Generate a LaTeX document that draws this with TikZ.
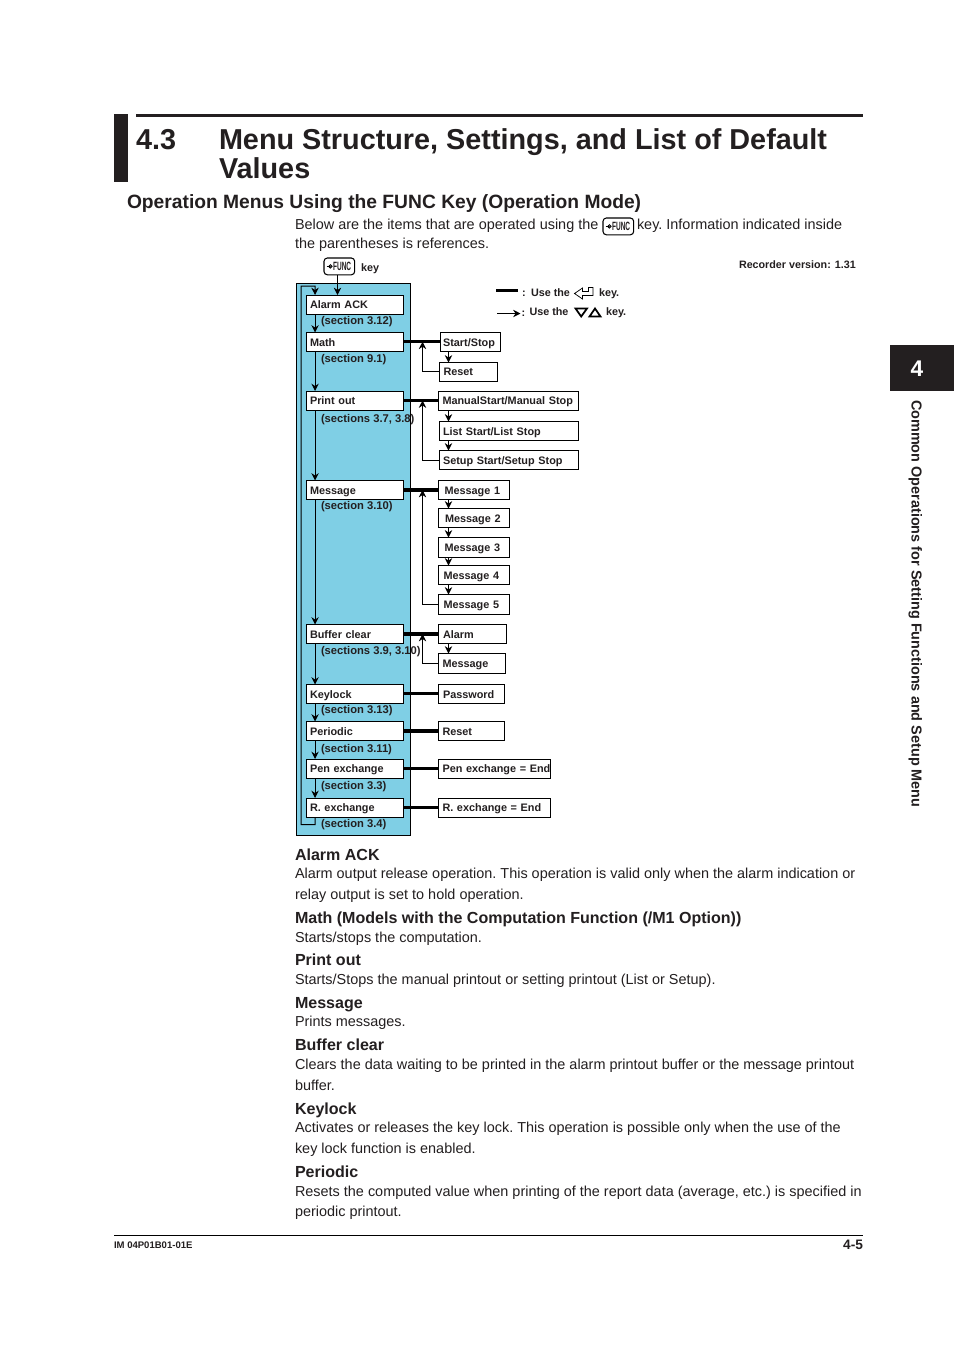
\documentclass[tikz,border=0pt]{standalone}
\usepackage{fontspec}
\setmainfont{Liberation Sans}
\usetikzlibrary{arrows.meta}
\definecolor{panel}{HTML}{7FCFE5}
\definecolor{ink}{HTML}{231F20}
\tikzset{
  txt/.style={anchor=base west,inner sep=0pt,outer sep=0pt,text=ink},
  title/.style={txt,font=\fontsize{21.6}{24}\selectfont\bfseries\frenchspacing},
  sect/.style={txt,font=\fontsize{14.43}{16}\selectfont\bfseries},
  head/.style={txt,font=\fontsize{12.03}{14}\selectfont\bfseries},
  body/.style={txt,font=\fontsize{10.83}{13}\selectfont\frenchspacing},
  small/.style={txt,font=\fontsize{8.1}{9}\selectfont\bfseries},
  refs/.style={txt,font=\fontsize{8.4}{9}\selectfont\bfseries},
  mbox/.style={draw=black,line width=0.75pt,fill=white,anchor=north west,inner ysep=0pt,inner xsep=0pt,outer sep=0pt,align=left,text=ink,font=\fontsize{8.15}{9}\selectfont\bfseries},
  thk/.style={draw=black,line width=2.6pt},
  thin/.style={draw=black,line width=0.75pt},
  arr/.style={thin,-{Stealth[length=5.5pt,width=5.5pt]}},
  keyb/.style={draw=black,line width=0.8pt,rounded corners=2.5pt,fill=white,inner sep=0pt,outer sep=0pt,anchor=north west},
}
% #1 name, #2 x1, #3 y1, #4 x2, #5 y2, #6 text offset, #7 text
\newcommand{\mnode}[7]{%
  \pgfmathsetmacro{\mywd}{(#4-#2)*0.75}%
  \pgfmathsetmacro{\myhd}{(#5-#3)*0.75}%
  \pgfmathsetmacro{\myofs}{#6*0.75}%
  \node[mbox,minimum width=\mywd pt,minimum height=\myhd pt,text width=\mywd pt] (#1) at (#2,#3) {\hspace*{\myofs pt}\raisebox{-1.1pt}[\height][\depth]{\mbox{\vphantom{Ag}#7}}};%
}
% #1 name, #2 x1, #3 y1: function key
\newcommand{\funckey}[3]{%
  \node[keyb,minimum width=23pt,minimum height=12.6pt] (#1) at (#2,#3) {};
  \node[inner sep=0pt,anchor=east,text=ink,font=\fontsize{7.2}{8}\selectfont\bfseries] (#1t) at ([xshift=-2.4pt]#1.east) {\scalebox{0.68}[1.25]{FUNC}};
  \draw[line width=0.6pt] ([xshift=-1.8pt]#1t.west) circle (1.3pt);
  \fill ([xshift=-1.4pt]#1t.west) -- ++(-1.3pt,1pt) -- ++(0,-2pt) -- cycle;
  \draw[line width=0.6pt] ([xshift=-4.6pt]#1t.west) -- ([xshift=-3.2pt]#1t.west);
}
\begin{document}
\begin{tikzpicture}[x=0.75pt,y=-0.75pt]
\useasboundingbox (0,0) rectangle (954,1350);
\fill[white] (0,0) rectangle (954,1350);
% title block
\fill[ink] (114,114) rectangle (128,182);
\fill[ink] (136,114) rectangle (863,117.2);
\node[title] (secnum) at (136,149.5) {4.3};
\node[title] (tit1) at (219,149.5) {Menu Structure, Settings, and List of Default};
\node[title] (tit2) at (219,178.5) {Values};
\node[sect] (sec) at (127,208) {Operation Menus Using the FUNC Key (Operation Mode)};
\node[body] (p1a) at (295,229) {Below are the items that are operated using the};
\funckey{k1}{603}{218}
\node[body] (p1b) at (637,229) {key. Information indicated inside};
\node[body] (p1c) at (295,248) {the parentheses is references.};
% func key in diagram
\funckey{k2}{324}{258}
\node[small] (keyw) at (361,271) {key};
\node[small,font=\fontsize{8.05}{9}\selectfont\bfseries] (ver) at (739,268) {Recorder version: 1.31};
% legend
\coordinate (la) at (496,290.5);
\coordinate (lb) at (518,290.5);
\draw[thk] (la) -- (lb);
\node[small] (l1) at (522,296) {:};
\node[small] (l1b) at (531,296) {Use the};
\fill[white,draw=black,line width=0.55pt] (574.5,293.5) -- (582.5,288) -- (582.5,291.5) -- (588.5,291.5) -- (588.5,287.5) -- (593,287.5) -- (593,295.5) -- (582.5,295.5) -- (582.5,299) -- cycle;
\node[small] (l1c) at (599,296) {key.};
\coordinate (lc) at (497,313.5);
\coordinate (ld) at (520.5,313.5);
\draw[arr] (lc) -- (ld);
\node[small] (l2) at (521.5,316) {:};
\node[small] (l2b) at (529.5,315) {Use the};
\draw[draw=black,line width=1.3pt] (575.5,308.5) -- (587,308.5) -- (581.2,316.5) -- cycle;
\draw[draw=black,line width=1.3pt] (589.5,316.5) -- (600.5,316.5) -- (595,308.5) -- cycle;
\node[small] (l2c) at (606,315) {key.};
% panel
\fill[panel,draw=black,line width=0.75pt] (296,283) rectangle (410.5,835);
% left boxes
\mnode{a1}{306.5}{295}{403.5}{314}{3.5}{Alarm ACK}
\mnode{a2}{306.5}{332.5}{403.5}{351}{3.5}{Math}
\mnode{a3}{306.5}{391}{403.5}{410}{3.5}{Print out}
\mnode{a4}{306.5}{480.5}{403.5}{499.5}{3.5}{Message}
\mnode{a5}{306.5}{624.5}{403.5}{643.5}{3.5}{Buffer clear}
\mnode{a6}{306.5}{684.5}{403.5}{703}{3.5}{Keylock}
\mnode{a7}{306.5}{721.5}{403.5}{740.5}{3.5}{Periodic}
\mnode{a8}{306.5}{759}{403.5}{778}{3.5}{Pen exchange}
\mnode{a9}{306.5}{798}{403.5}{817}{3.5}{R. exchange}
% section refs
\node[refs] (s1) at (321,324) {(section 3.12)};
\node[refs] (s2) at (321,362) {(section 9.1)};
\node[refs] (s3) at (321,422) {(sections 3.7, 3.8)};
\node[refs] (s4) at (321,509) {(section 3.10)};
\node[refs] (s5) at (321,654) {(sections 3.9, 3.10)};
\node[refs] (s6) at (321,713) {(section 3.13)};
\node[refs] (s7) at (321,752) {(section 3.11)};
\node[refs] (s8) at (321,789) {(section 3.3)};
\node[refs] (s9) at (321,827) {(section 3.4)};
% right boxes
\mnode{b1}{440}{332.5}{500}{351}{3}{Start/Stop}
\mnode{b2}{439.5}{362.5}{497}{381}{4}{Reset}
\mnode{c1}{438.5}{391}{578.5}{410}{4}{ManualStart/Manual Stop}
\mnode{c2}{439.5}{421.5}{578.5}{440}{3.5}{List Start/List Stop}
\mnode{c3}{439.5}{450.5}{578.5}{469.5}{3.5}{Setup Start/Setup Stop}
\mnode{d1}{438.5}{480.5}{509}{499.5}{6}{Message 1}
\mnode{d2}{438.5}{508.5}{509}{527.5}{6.5}{Message 2}
\mnode{d3}{438.5}{537.5}{509}{557.5}{6}{Message 3}
\mnode{d4}{438.5}{565.5}{509}{584.5}{5}{Message 4}
\mnode{d5}{438.5}{594.5}{509}{614}{5}{Message 5}
\mnode{e1}{438.5}{624.5}{506.5}{643.5}{4.5}{Alarm}
\mnode{e2}{438.5}{653.5}{505.5}{673.5}{4}{Message}
\mnode{f1}{438.5}{684.5}{504.5}{703}{4.5}{Password}
\mnode{g1}{438.5}{721.5}{504.5}{740.5}{4}{Reset}
\mnode{h1}{438.5}{759}{550.5}{778}{4}{Pen exchange = End}
\mnode{i1}{438.5}{798}{550.5}{817}{4}{R. exchange = End}
% thick connectors
\foreach \p/\q in {a2/b1,a3/c1,a4/d1,a5/e1,a6/f1,a7/g1,a8/h1,a9/i1}
  \draw[thk] (\p.east) -- (\q.west);
% coordinates for the left main flow
\foreach \n in {1,...,9} {
  \coordinate (ab\n) at ([xshift=6.4pt]a\n.south west);
  \coordinate (at\n) at ([xshift=6.4pt]a\n.north west);
}
\foreach \u/\v in {1/2,2/3,3/4,4/5,5/6,6/7,7/8,8/9}
  \draw[arr] (ab\u) -- (at\v);
% outer loop
\coordinate (lpa) at (315,824.5);
\coordinate (lpb) at (301,824.5);
\coordinate (lpc) at (301,286);
\coordinate (lpd) at (315,286);
\draw[arr] (ab9) -- (lpa) -- (lpb) -- (lpc) -- (lpd) -- (at1);
\draw[arr] (k2.south -| 337.5,0) -- (a1.north -| 337.5,0);
% right-side arrows
\foreach \u/\v in {b1/b2,c1/c2,c2/c3,d1/d2,d2/d3,d3/d4,d4/d5,e1/e2}
  \draw[arr] (\u.south -| 448.5,0) -- (\v.north -| 448.5,0);
% return arrows
\foreach \ma/\mb in {b2/a2,c3/a3,d5/a4,e2/a5}
  \draw[arr] (\ma.west) -| (\mb.east -| 422.5,0);
% body text
\node[head] (h1) at (295,860) {Alarm ACK};
\node[body] (t1) at (295,878) {Alarm output release operation. This operation is valid only when the alarm indication or};
\node[body] (t2) at (295,899) {relay output is set to hold operation.};
\node[head] (h2) at (295,923) {Math (Models with the Computation Function (/M1 Option))};
\node[body] (t3) at (295,942) {Starts/stops the computation.};
\node[head] (h3) at (295,965) {Print out};
\node[body] (t4) at (295,984) {Starts/Stops the manual printout or setting printout (List or Setup).};
\node[head] (h4) at (295,1008) {Message};
\node[body] (t5) at (295,1026) {Prints messages.};
\node[head] (h5) at (295,1050) {Buffer clear};
\node[body] (t6) at (295,1069) {Clears the data waiting to be printed in the alarm printout buffer or the message printout};
\node[body] (t7) at (295,1090) {buffer.};
\node[head] (h6) at (295,1114) {Keylock};
\node[body] (t8) at (295,1132) {Activates or releases the key lock. This operation is possible only when the use of the};
\node[body] (t9) at (295,1153) {key lock function is enabled.};
\node[head] (h7) at (295,1177) {Periodic};
\node[body] (t10) at (295,1196) {Resets the computed value when printing of the report data (average, etc.) is specified in};
\node[body] (t11) at (295,1216) {periodic printout.};
% footer
\draw[black,line width=0.75pt] (114,1235.5) -- (863,1235.5);
\node[txt,font=\fontsize{7.16}{8}\selectfont\bfseries] (foot) at (114,1248) {IM 04P01B01-01E};
\node[txt,anchor=base east,font=\fontsize{10.3}{12}\selectfont\bfseries] (pg) at (863,1249) {4-5};
% side tab
\fill[ink] (890,345) rectangle (954,391);
\node[txt,text=white,anchor=center,font=\fontsize{17}{18}\selectfont\bfseries] (tab) at (917,369) {4};
\node[txt,rotate=-90,font=\fontsize{10.83}{12}\selectfont\bfseries] (side) at (911.5,400) {Common Operations for Setting Functions and Setup Menu};
\end{tikzpicture}
\end{document}
